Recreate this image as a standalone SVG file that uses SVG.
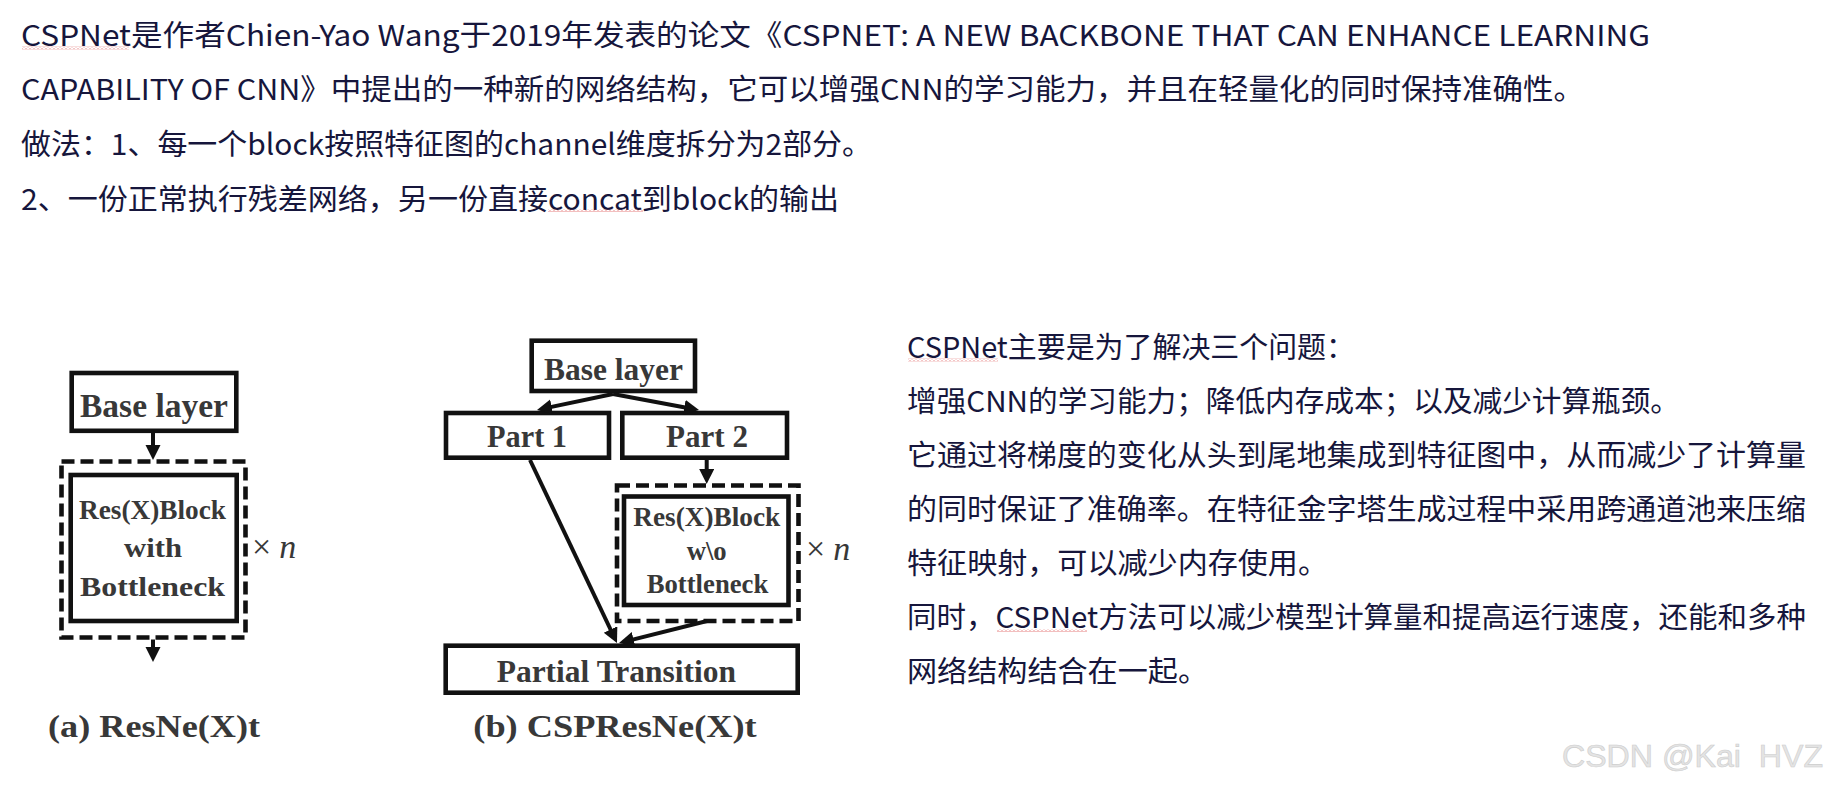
<svg xmlns="http://www.w3.org/2000/svg" width="1831" height="785" viewBox="0 0 1831 785">
<style>
.t{font-family:"Noto Sans CJK SC","Noto Sans",sans-serif;font-size:29px;fill:#16163c}
.f{font-family:"Liberation Serif","Times New Roman",serif;font-weight:bold;fill:#383838}
.box{fill:#fff;stroke:#111;stroke-width:4.6}
.dash{fill:none;stroke:#111;stroke-width:4.6;stroke-dasharray:13 6}
.conn line{stroke:#111;stroke-width:4;marker-end:url(#ah)}
.wm{font-family:"Liberation Sans",Arial,sans-serif;font-size:32px;fill:#e4e4e4;stroke:#cdcdcd;stroke-width:0.6;white-space:pre}
</style>
<defs>
<marker id="ah" markerUnits="userSpaceOnUse" markerWidth="16" markerHeight="16" refX="5" refY="7.5" orient="auto">
<path d="M0,0 L15,7.5 L0,15 z" fill="#111"/>
</marker>
<pattern id="wave" patternUnits="userSpaceOnUse" width="4" height="3">
<path d="M0,2.5 L2,0.5 L4,2.5" fill="none" stroke="#e06060" stroke-width="0.8"/>
</pattern>
</defs>
<rect width="1831" height="785" fill="#fff"/>

<g id="top-text">
<text class="t" x="21" y="46" textLength="1629" lengthAdjust="spacingAndGlyphs">CSPNet是作者Chien-Yao Wang于2019年发表的论文《CSPNET: A NEW BACKBONE THAT CAN ENHANCE LEARNING</text>
<text class="t" x="21" y="100" textLength="1563" lengthAdjust="spacingAndGlyphs">CAPABILITY OF CNN》中提出的一种新的网络结构，它可以增强CNN的学习能力，并且在轻量化的同时保持准确性。</text>
<text class="t" x="21" y="155" textLength="851" lengthAdjust="spacingAndGlyphs">做法：1、每一个block按照特征图的channel维度拆分为2部分。</text>
<text class="t" x="21" y="210" textLength="818" lengthAdjust="spacingAndGlyphs">2、一份正常执行残差网络，另一份直接concat到block的输出</text>
<rect x="22" y="46.5" width="107" height="3" fill="url(#wave)"/>
<rect x="548" y="209" width="95" height="3" fill="url(#wave)"/>
</g>

<g id="right-text">
<text class="t" x="907" y="358" textLength="448" lengthAdjust="spacingAndGlyphs">CSPNet主要是为了解决三个问题：</text>
<text class="t" x="907" y="412" textLength="773" lengthAdjust="spacingAndGlyphs">增强CNN的学习能力；降低内存成本；以及减少计算瓶颈。</text>
<text class="t" x="907" y="466" textLength="899" lengthAdjust="spacingAndGlyphs">它通过将梯度的变化从头到尾地集成到特征图中，从而减少了计算量</text>
<text class="t" x="907" y="520" textLength="899" lengthAdjust="spacingAndGlyphs">的同时保证了准确率。在特征金字塔生成过程中采用跨通道池来压缩</text>
<text class="t" x="907" y="574" textLength="421" lengthAdjust="spacingAndGlyphs">特征映射，可以减少内存使用。</text>
<text class="t" x="907" y="628" textLength="899" lengthAdjust="spacingAndGlyphs">同时，CSPNet方法可以减少模型计算量和提高运行速度，还能和多种</text>
<text class="t" x="907" y="682" textLength="301" lengthAdjust="spacingAndGlyphs">网络结构结合在一起。</text>
<rect x="908" y="358.5" width="90" height="3" fill="url(#wave)"/>
<rect x="997" y="629" width="90" height="3" fill="url(#wave)"/>
</g>

<g id="a-base">
<rect class="box" x="71.7" y="373" width="164.6" height="57.8"/>
<text class="f" x="80" y="417" font-size="34" textLength="148" lengthAdjust="spacingAndGlyphs">Base layer</text>
</g>
<g id="a-block">
<rect class="dash" x="61.5" y="461.5" width="184" height="176"/>
<rect class="box" x="70.7" y="475" width="166" height="146"/>
<text class="f" x="79" y="519" font-size="27" textLength="147" lengthAdjust="spacingAndGlyphs">Res(X)Block</text>
<text class="f" x="124" y="557" font-size="27" textLength="58" lengthAdjust="spacingAndGlyphs">with</text>
<text class="f" x="80" y="596" font-size="27" textLength="145" lengthAdjust="spacingAndGlyphs">Bottleneck</text>
<text x="252" y="558" font-family="Liberation Serif,serif" font-size="34" fill="#383838">×<tspan dx="8" font-style="italic">n</tspan></text>
</g>
<g id="a-caption">
<text class="f" x="48" y="737" font-size="32" textLength="212" lengthAdjust="spacingAndGlyphs">(a) ResNe(X)t</text>
</g>

<g id="b-base">
<rect class="box" x="531.7" y="340.7" width="163.3" height="50.3"/>
<text class="f" x="544" y="380" font-size="32" textLength="139" lengthAdjust="spacingAndGlyphs">Base layer</text>
</g>
<g id="b-part1">
<rect class="box" x="446" y="413" width="163" height="44.7"/>
<text class="f" x="487" y="446.7" font-size="31" textLength="80" lengthAdjust="spacingAndGlyphs">Part 1</text>
</g>
<g id="b-part2">
<rect class="box" x="622.3" y="413" width="164.7" height="44.7"/>
<text class="f" x="666" y="446.7" font-size="31" textLength="82" lengthAdjust="spacingAndGlyphs">Part 2</text>
</g>
<g id="b-block">
<rect class="dash" x="617" y="485.5" width="181.5" height="135.5"/>
<rect class="box" x="624" y="496.5" width="164.5" height="108.5"/>
<text class="f" x="633.3" y="525.7" font-size="27" textLength="147" lengthAdjust="spacingAndGlyphs">Res(X)Block</text>
<text class="f" x="686.7" y="560" font-size="27" textLength="40" lengthAdjust="spacingAndGlyphs">w\o</text>
<text class="f" x="646.7" y="593.3" font-size="27" textLength="121.6" lengthAdjust="spacingAndGlyphs">Bottleneck</text>
<text x="806" y="560" font-family="Liberation Serif,serif" font-size="34" fill="#383838">×<tspan dx="8" font-style="italic">n</tspan></text>
</g>
<g id="b-transition">
<rect class="box" x="445.7" y="645.7" width="352" height="47"/>
<text class="f" x="496.7" y="681.7" font-size="31" textLength="239.3" lengthAdjust="spacingAndGlyphs">Partial Transition</text>
</g>
<g id="b-caption">
<text class="f" x="473.3" y="737" font-size="32" textLength="283.4" lengthAdjust="spacingAndGlyphs">(b) CSPResNe(X)t</text>
</g>

<g id="connectors" class="conn">
<line x1="153" y1="433" x2="153" y2="450"/>
<line x1="153" y1="639.5" x2="153" y2="652"/>
<line x1="613" y1="394" x2="546.8" y2="407.9"/>
<line x1="613" y1="394" x2="689.2" y2="408.2"/>
<line x1="706.7" y1="460" x2="706.7" y2="474"/>
<line x1="530" y1="460" x2="612.7" y2="634"/>
<line x1="707" y1="621" x2="628.7" y2="640.6"/>
</g>

<text class="wm" x="1562" y="767" textLength="261" lengthAdjust="spacingAndGlyphs">CSDN @Kai  HVZ</text>
</svg>
